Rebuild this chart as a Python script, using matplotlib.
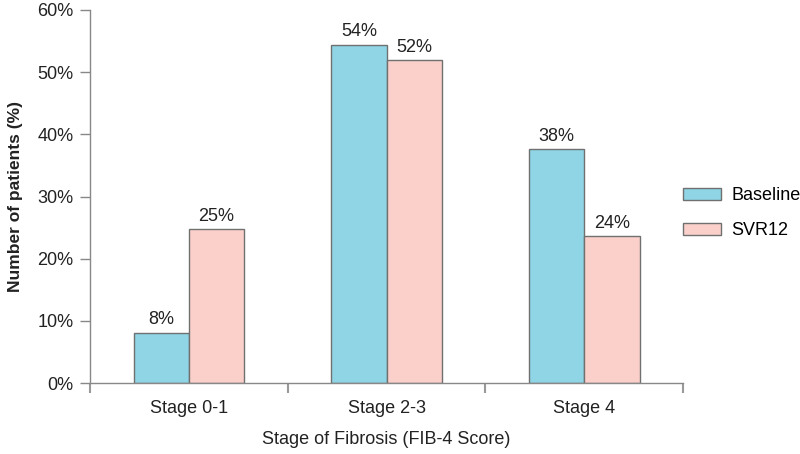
import matplotlib

matplotlib.use("Agg")

import matplotlib.pyplot as plt
import numpy as np

STAGES = ["Stage 0-1", "Stage 2-3", "Stage 4"]
BASELINE = [8.1, 54.4, 37.6]
SVR12 = [24.8, 51.9, 23.6]
BASELINE_LABELS = ["8%", "54%", "38%"]
SVR12_LABELS = ["25%", "52%", "24%"]
Y_TICKS = [0, 10, 20, 30, 40, 50, 60]

BASELINE_COLOR = "#8fd5e5"
SVR12_COLOR = "#fbd0ca"
EDGE_COLOR = "#707070"
TEXT_COLOR = "#222222"


def main() -> None:
    plt.rcParams["font.family"] = ["Liberation Sans", "DejaVu Sans"]

    fig = plt.figure(figsize=(8, 4.54), dpi=100)
    ax = fig.add_axes([0.1125, 0.156, 0.7415, 0.822])

    x = np.arange(len(STAGES))
    width = 0.28

    bars_b = ax.bar(x - width / 2, BASELINE, width=width, color=BASELINE_COLOR,
                    edgecolor=EDGE_COLOR, linewidth=1.0, label="Baseline")
    bars_s = ax.bar(x + width / 2, SVR12, width=width, color=SVR12_COLOR,
                    edgecolor=EDGE_COLOR, linewidth=1.0, label="SVR12")

    for bars, labels in ((bars_b, BASELINE_LABELS), (bars_s, SVR12_LABELS)):
        for bar, text in zip(bars, labels):
            ax.text(bar.get_x() + bar.get_width() / 2, bar.get_height() + 0.7, text,
                    ha="center", va="bottom", fontsize=13, color=TEXT_COLOR)

    ax.set_xlim(-0.5, 2.5)
    ax.set_ylim(0, 60)
    ax.set_yticks(Y_TICKS)
    ax.set_yticklabels([f"{v}%" for v in Y_TICKS], fontsize=13, color=TEXT_COLOR)
    ax.set_xticks(x)
    ax.set_xticklabels(STAGES, fontsize=13, color=TEXT_COLOR)
    ax.set_xticks([-0.5, 0.5, 1.5, 2.5], minor=True)
    ax.tick_params(axis="x", which="major", length=0, pad=12)
    ax.tick_params(axis="x", which="minor", length=7, width=1.5, color="#999999")
    ax.tick_params(axis="y", length=7, width=1.0, color="#888888", pad=5)

    for side in ("top", "right"):
        ax.spines[side].set_visible(False)
    for side in ("left", "bottom"):
        ax.spines[side].set_color("#888888")
        ax.spines[side].set_linewidth(1.0)

    ax.set_ylabel("Number of patients (%)", fontsize=12.5, fontweight="bold",
                  color=TEXT_COLOR, labelpad=10)
    ax.set_xlabel("Stage of Fibrosis (FIB-4 Score)", fontsize=13, color=TEXT_COLOR,
                  labelpad=10)

    ax.legend(loc="center left", bbox_to_anchor=(1.0, 0.456), frameon=False,
              fontsize=13, handlelength=2.1, handleheight=0.65, labelspacing=1.0,
              handletextpad=0.55, borderaxespad=0, borderpad=0)

    fig.savefig("out.png", dpi=100)
    plt.close(fig)


if __name__ == "__main__":
    main()
